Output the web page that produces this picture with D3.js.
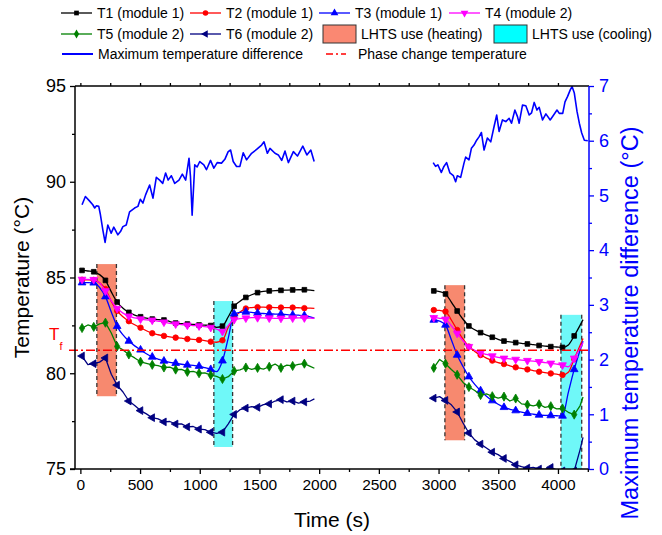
<!DOCTYPE html>
<html><head><meta charset="utf-8">
<script src="https://cdnjs.cloudflare.com/ajax/libs/d3/7.8.5/d3.min.js"></script>
<style>body{margin:0;background:#fff} svg{font-family:Arial,"Liberation Sans",sans-serif}</style>
</head><body>
<svg id="c" width="662" height="535"></svg>
<script>
// ---------------- DATA ----------------
const seriesNames = ["T1 (module 1)","T2 (module 1)","T3 (module 1)","T4 (module 2)","T5 (module 2)","T6 (module 2)"];
const seg1Time = [14,63,112,161,210,259,308,357,406,455,504,553,602,651,700,749,798,847,896,945,994,1043,1092,1141,1190,1239,1288,1337,1386,1435,1484,1533,1582,1631,1680,1729,1778,1827,1876,1925,1960];
const seg2Time = [2960,3009,3058,3107,3156,3205,3254,3303,3352,3401,3450,3499,3548,3597,3646,3695,3744,3793,3842,3891,3940,3989,4038,4087,4136,4185,4210];

const t1Seg1 = [85.37,85.34,85.30,85.15,84.85,84.25,83.72,83.40,83.18,83.04,82.95,82.88,82.83,82.80,82.78,82.70,82.62,82.59,82.57,82.55,82.52,82.51,82.49,82.40,82.46,82.95,83.50,83.76,83.96,84.10,84.21,84.27,84.30,84.31,84.33,84.34,84.35,84.36,84.36,84.34,84.31];
const t2Seg1 = [84.88,84.88,84.87,84.72,84.40,83.75,83.26,82.95,82.72,82.53,82.38,82.22,82.09,82.01,81.95,81.90,81.86,81.83,81.79,81.77,81.74,81.70,81.65,81.62,81.72,82.40,82.90,83.20,83.38,83.43,83.45,83.45,83.44,83.43,83.43,83.43,83.43,83.42,83.40,83.40,83.39];
const t3Seg1 = [84.73,84.73,84.72,84.48,84.00,83.20,82.45,82.00,81.68,81.43,81.22,81.02,80.85,80.74,80.64,80.57,80.52,80.47,80.43,80.41,80.37,80.29,80.20,80.08,80.65,81.85,83.10,83.18,83.20,83.18,83.14,83.12,83.10,83.09,83.08,83.06,83.04,83.03,83.01,82.95,82.88];
const t4Seg1 = [84.90,84.90,84.89,84.72,84.30,83.78,83.38,83.14,82.98,82.89,82.83,82.79,82.77,82.72,82.67,82.61,82.57,82.54,82.51,82.49,82.47,82.43,82.39,82.30,82.18,82.50,82.80,82.85,82.88,82.90,82.90,82.89,82.88,82.87,82.87,82.87,82.88,82.89,82.89,82.88,82.87];
const t5Seg1 = [82.36,82.52,82.42,82.58,82.64,82.10,81.40,81.22,80.98,80.80,80.60,80.52,80.44,80.40,80.30,80.32,80.19,80.20,80.07,80.10,80.00,80.02,79.90,79.84,79.70,79.82,80.12,80.18,80.30,80.20,80.28,80.22,80.34,80.48,80.28,80.42,80.38,80.46,80.50,80.36,80.26];
const t6Seg1 = [80.90,80.45,80.50,80.58,80.80,79.95,79.38,79.02,78.55,78.32,78.05,77.88,77.68,77.62,77.46,77.48,77.35,77.36,77.20,77.22,77.08,77.06,76.92,76.86,76.92,77.36,77.85,78.10,78.18,78.26,78.22,78.36,78.40,78.55,78.62,78.50,78.55,78.44,78.50,78.55,78.66];

const t1Seg2 = [84.30,84.26,84.14,83.72,83.25,82.82,82.47,82.27,82.12,81.99,81.88,81.77,81.68,81.64,81.60,81.56,81.53,81.49,81.45,81.42,81.39,81.37,81.35,81.48,81.95,82.50,82.80];
const t2Seg2 = [83.30,83.28,83.22,82.78,82.26,81.78,81.39,81.14,80.95,80.79,80.66,80.56,80.48,80.39,80.31,80.25,80.20,80.14,80.08,80.03,79.99,79.95,79.91,80.05,80.75,81.45,81.82];
const t3Seg2 = [82.78,82.72,82.52,81.75,80.95,80.35,79.82,79.42,79.09,78.80,78.57,78.38,78.22,78.12,78.05,77.97,77.91,77.86,77.82,77.80,77.79,77.78,77.77,79.00,80.20,81.20,81.68];
const t4Seg2 = [82.90,82.87,82.82,82.48,82.08,81.70,81.39,81.20,81.07,80.98,80.90,80.83,80.78,80.75,80.72,80.69,80.66,80.63,80.60,80.56,80.52,80.48,80.43,80.34,80.78,81.30,81.60];
const t5Seg2 = [80.28,80.72,80.50,80.20,79.92,79.52,79.28,79.10,78.86,78.92,78.80,78.70,78.78,78.55,78.68,78.40,78.36,78.30,78.38,78.22,78.28,78.14,78.16,77.96,77.84,78.30,78.76];
const t6Seg2 = [78.70,78.78,78.58,78.35,77.98,77.40,76.88,76.52,76.30,76.10,75.88,75.75,75.55,75.40,75.22,75.12,75.05,75.08,75.00,74.98,75.08,74.95,74.90,74.88,74.90,76.00,76.65];

const diffTime1 = [14,42,76,104,120,135,154,166,188,207,230,258,280,314,336,356,384,412,454,482,502,524,546,580,608,636,664,690,714,735,762,790,826,854,882,910,922,936,958,978,1000,1034,1056,1090,1118,1146,1182,1210,1238,1258,1280,1308,1336,1364,1392,1434,1476,1518,1538,1566,1588,1630,1658,1686,1714,1742,1784,1818,1863,1897,1930,1958];
const diffValue1 = [4.83,4.98,4.90,4.83,4.77,4.81,4.80,4.67,4.37,4.14,4.46,4.31,4.42,4.28,4.34,4.43,4.46,4.70,4.77,4.80,4.93,4.86,5.01,5.19,4.95,5.33,5.28,5.22,5.41,5.28,5.36,5.22,5.28,5.39,5.28,5.68,5.35,4.64,5.56,5.52,5.62,5.56,5.47,5.64,5.50,5.60,5.59,5.66,5.80,5.83,5.62,5.53,5.53,5.78,5.65,5.77,5.84,5.92,5.98,5.77,5.86,5.77,5.74,5.64,5.81,5.60,5.80,5.72,5.90,5.74,5.83,5.62];
const diffTime2 = [2955,2975,2994,3023,3045,3067,3095,3124,3143,3157,3185,3213,3227,3255,3275,3297,3319,3339,3359,3381,3409,3437,3465,3487,3507,3535,3563,3591,3611,3639,3661,3675,3703,3731,3759,3779,3801,3824,3843,3871,3899,3935,3964,3992,4011,4040,4059,4081,4103,4118,4137,4160,4179,4199,4221,4250];
const diffValue2 = [5.60,5.53,5.56,5.42,5.53,5.60,5.41,5.36,5.25,5.36,5.33,5.59,5.70,5.65,5.86,5.92,6.01,6.07,6.15,5.83,6.05,5.98,6.26,6.47,6.17,6.38,6.35,6.41,6.32,6.56,6.44,6.32,6.65,6.64,6.47,6.51,6.70,6.56,6.61,6.38,6.49,6.38,6.47,6.56,6.50,6.50,6.71,6.81,6.93,6.99,6.87,6.53,6.32,6.14,6.01,6.00];

// [start time, end time, low temp, high temp]
const heatingPeriods = [[138, 302, 78.8, 85.7], [3053, 3218, 76.5, 84.6]];
const coolingPeriods = [[1118, 1275, 76.15, 83.77], [4025, 4199, 75.0, 83.05]];
const phaseChangeTemp = 81.2;

const xMajorTicks = [0,500,1000,1500,2000,2500,3000,3500,4000];
const xMinorTicks = [250,750,1250,1750,2250,2750,3250,3750,4250];
const yMajorTicks = [75,80,85,90,95];
const yMinorTicks = [77.5,82.5,87.5,92.5];
const y2MajorTicks = [0,1,2,3,4,5,6,7];
const y2MinorTicks = [0.5,1.5,2.5,3.5,4.5,5.5,6.5];

// ---------------- CHART ----------------
const svg = d3.select("#c");
const L = 75, R = 589, T = 86, B = 469;
const x = d3.scaleLinear().domain([-45, 4260]).range([L, R]);
const y = d3.scaleLinear().domain([75, 95]).range([B, T]);
const y2 = d3.scaleLinear().domain([0, 7]).range([B, T]);

const styles = [
  {color:"#000000", sym:d3.symbolSquare, size:22, rot:0},
  {color:"#FF0000", sym:d3.symbolCircle, size:24, rot:0},
  {color:"#0000FF", sym:d3.symbolTriangle, size:26, rot:0},
  {color:"#FF00FF", sym:d3.symbolTriangle, size:26, rot:180},
  {color:"#008000", sym:d3.symbolDiamond, size:24, rot:0},
  {color:"#000080", sym:d3.symbolTriangle, size:26, rot:-90}
];
const seg1Vals = [t1Seg1,t2Seg1,t3Seg1,t4Seg1,t5Seg1,t6Seg1];
const seg2Vals = [t1Seg2,t2Seg2,t3Seg2,t4Seg2,t5Seg2,t6Seg2];

svg.append("defs").append("clipPath").attr("id","plot")
  .append("rect").attr("x",L).attr("y",T).attr("width",R-L).attr("height",B-T);
const plot = svg.append("g").attr("clip-path","url(#plot)");

function drawPeriods(periods, fill){
  periods.forEach(p=>{
    plot.append("rect").attr("x",x(p[0])).attr("width",x(p[1])-x(p[0]))
      .attr("y",y(p[3])).attr("height",y(p[2])-y(p[3])).attr("fill",fill);
    [p[0],p[1]].forEach(t=>{
      plot.append("line").attr("x1",x(t)).attr("x2",x(t)).attr("y1",y(p[3])).attr("y2",y(p[2]))
        .attr("stroke","#333").attr("stroke-width",1.3).attr("stroke-dasharray","4,3");
    });
  });
}
drawPeriods(heatingPeriods, "#F7896F");
drawPeriods(coolingPeriods, "#6FF8F8");

// phase change line
svg.append("line").attr("x1",69).attr("x2",R).attr("y1",y(phaseChangeTemp)).attr("y2",y(phaseChangeTemp))
  .attr("stroke","#FF0000").attr("stroke-width",1.5).attr("stroke-dasharray","9,3,2,3");

// temperature series
const smooth = d3.line().x(d=>x(d[0])).y(d=>y(d[1])).curve(d3.curveMonotoneX);
const straight = d3.line().x(d=>x(d[0])).y(d=>y(d[1]));
function markerPath(st){ return d3.symbol().type(st.sym).size(st.size)(); }
styles.forEach((st,i)=>{
  [[seg1Time, seg1Vals[i]],[seg2Time, seg2Vals[i]]].forEach(([tt,vv])=>{
    const pts = tt.map((t,k)=>[t, vv[k]]);
    plot.append("path").attr("d",(i>=4?straight:smooth)(pts)).attr("fill","none")
      .attr("stroke",st.color).attr("stroke-width",1.3).attr("stroke-linejoin","round");
    pts.forEach((p,k)=>{
      if (k%2===0 && k<pts.length-1){
        plot.append("path").attr("d",markerPath(st))
          .attr("transform",`translate(${x(p[0])},${y(p[1])}) rotate(${st.rot})`)
          .attr("fill",st.color).attr("stroke",st.color).attr("stroke-width",0.8);
      }
    });
  });
});

// max temperature difference
const dline = d3.line().x(d=>x(d[0])).y(d=>y2(d[1]));
[[diffTime1,diffValue1],[diffTime2,diffValue2]].forEach(([tt,vv])=>{
  plot.append("path").attr("d",dline(tt.map((t,k)=>[t,vv[k]]))).attr("fill","none")
    .attr("stroke","#0000FF").attr("stroke-width",1.6).attr("stroke-linejoin","round");
});

// axes
function styleAxis(g, color, fs){
  g.selectAll(".domain").remove();
  g.selectAll("line").attr("stroke",color).attr("stroke-width",1.3);
  g.selectAll("text").attr("fill",color).style("font-size",fs+"px").style("font-family","Arial,'Liberation Sans',sans-serif");
}
const gxMin = svg.append("g").attr("transform",`translate(0,${B})`)
  .call(d3.axisBottom(x).tickValues(xMinorTicks).tickSize(3).tickFormat(""));
styleAxis(gxMin,"#000",14);
const gx = svg.append("g").attr("transform",`translate(0,${B})`)
  .call(d3.axisBottom(x).tickValues(xMajorTicks).tickSize(5).tickPadding(5).tickFormat(d3.format("d")));
styleAxis(gx,"#000",15.5);
// top ticks
const gt = svg.append("g").attr("transform",`translate(0,${T})`)
  .call(d3.axisTop(x).tickValues(xMajorTicks.concat(xMinorTicks.filter(v=>v<4200))).tickSize(3).tickFormat(""));
styleAxis(gt,"#000",12);

const gyMin = svg.append("g").attr("transform",`translate(${L},0)`)
  .call(d3.axisLeft(y).tickValues(yMinorTicks).tickSize(3).tickFormat(""));
styleAxis(gyMin,"#000",12);
const gy = svg.append("g").attr("transform",`translate(${L},0)`)
  .call(d3.axisLeft(y).tickValues(yMajorTicks).tickSize(5).tickPadding(4).tickFormat(d3.format("d")));
styleAxis(gy,"#000",18);

const gy2Min = svg.append("g").attr("transform",`translate(${R},0)`)
  .call(d3.axisRight(y2).tickValues(y2MinorTicks).tickSize(3).tickFormat(""));
styleAxis(gy2Min,"#0000FF",12);
const gy2 = svg.append("g").attr("transform",`translate(${R},0)`)
  .call(d3.axisRight(y2).tickValues(y2MajorTicks).tickSize(5).tickPadding(5).tickFormat(d3.format("d")));
styleAxis(gy2,"#0000FF",18);

// frame lines
svg.append("line").attr("x1",L).attr("x2",R).attr("y1",T).attr("y2",T).attr("stroke","#000").attr("stroke-width",1.3);
svg.append("line").attr("x1",L-5).attr("x2",R).attr("y1",B).attr("y2",B).attr("stroke","#000").attr("stroke-width",1.5);
svg.append("line").attr("x1",L).attr("x2",L).attr("y1",T).attr("y2",B).attr("stroke","#000").attr("stroke-width",1.5);
svg.append("line").attr("x1",R).attr("x2",R).attr("y1",T).attr("y2",B).attr("stroke","#0000FF").attr("stroke-width",1.5);

// axis titles
svg.append("text").attr("x",332).attr("y",527).attr("text-anchor","middle").style("font-size","21px").text("Time (s)");
svg.append("text").attr("transform",`translate(29,${(T+B)/2}) rotate(-90)`).attr("text-anchor","middle")
  .style("font-size","21px").text("Temperature (°C)");
svg.append("text").attr("transform",`translate(638,323) rotate(-90)`).attr("text-anchor","middle")
  .style("font-size","23.5px").attr("fill","#0000FF").text("Maximum temperature difference (°C)");

// Tf label
const tf = svg.append("text").attr("x",49).attr("y",y(phaseChangeTemp)-10).attr("fill","#FF0000").style("font-size","17px");
tf.append("tspan").text("T");
tf.append("tspan").attr("dy",10).style("font-size","11px").text("f");

// legend
const lg = svg.append("g").style("font-size","14px");
function lineEntry(x0, yc, st, label){
  lg.append("line").attr("x1",x0).attr("x2",x0+31).attr("y1",yc).attr("y2",yc).attr("stroke",st.color).attr("stroke-width",1.3);
  lg.append("path").attr("d",markerPath(st)).attr("transform",`translate(${x0+15.5},${yc}) rotate(${st.rot})`).attr("fill",st.color);
  lg.append("text").attr("x",x0+36).attr("y",yc+5).text(label);
}
const rowY = [13, 34, 54];
const rowX = [61, 190, 319, 449];
for (let i=0;i<4;i++) lineEntry(rowX[i], rowY[0], styles[i], seriesNames[i]);
lineEntry(rowX[0], rowY[1], styles[4], seriesNames[4]);
lineEntry(rowX[1], rowY[1], styles[5], seriesNames[5]);
lg.append("rect").attr("x",323).attr("y",rowY[1]-9).attr("width",33).attr("height",18).attr("fill","#FA8872").attr("stroke","#333").attr("stroke-width",1);
lg.append("text").attr("x",361).attr("y",rowY[1]+5).text("LHTS use (heating)");
lg.append("rect").attr("x",494).attr("y",rowY[1]-9).attr("width",33).attr("height",18).attr("fill","#00FFFF").attr("stroke","#333").attr("stroke-width",1);
lg.append("text").attr("x",532).attr("y",rowY[1]+5).text("LHTS use (cooling)");
lg.append("line").attr("x1",62).attr("x2",93).attr("y1",rowY[2]).attr("y2",rowY[2]).attr("stroke","#0000FF").attr("stroke-width",2);
lg.append("text").attr("x",98).attr("y",rowY[2]+5).text("Maximum temperature difference");
lg.append("line").attr("x1",326).attr("x2",346).attr("y1",rowY[2]).attr("y2",rowY[2]).attr("stroke","#FF0000").attr("stroke-width",1.5).attr("stroke-dasharray","7,3,2,3");
lg.append("text").attr("x",358).attr("y",rowY[2]+5).text("Phase change temperature");
</script>
</body></html>
